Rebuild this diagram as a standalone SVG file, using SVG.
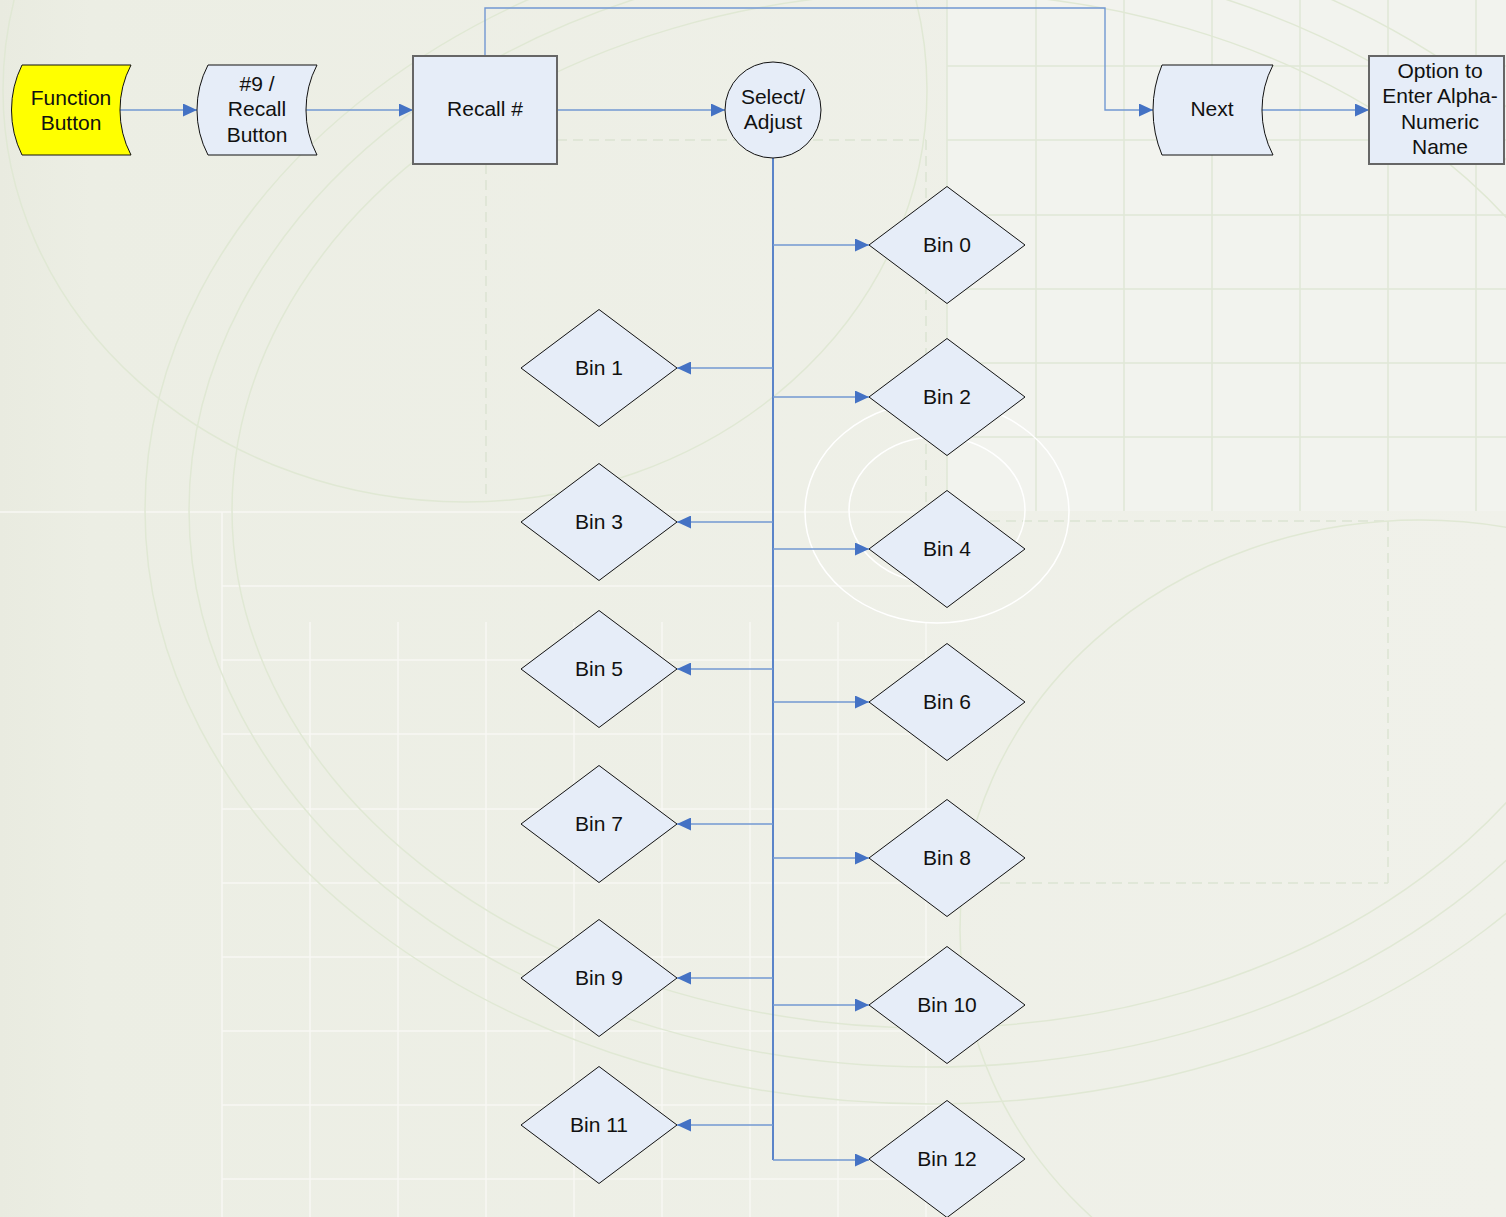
<svg xmlns="http://www.w3.org/2000/svg" width="1506" height="1217" viewBox="0 0 1506 1217">
<defs>
<linearGradient id="bgg" x1="0" y1="0" x2="1" y2="0">
<stop offset="0" stop-color="#E9EBE0"/>
<stop offset="0.06" stop-color="#ECEEE4"/>
<stop offset="1" stop-color="#F0F1EA"/>
</linearGradient>
<marker id="arr" viewBox="0 0 14 13" refX="14" refY="6.5" markerWidth="14" markerHeight="13" markerUnits="userSpaceOnUse" orient="auto">
<path d="M0,0 L14,6.5 L0,13 z" fill="#4472C4"/>
</marker>
<style>
.gl{stroke:#E0E7D6;stroke-width:1.5;fill:none}
.wl{stroke:#F8F8F3;stroke-width:1.5;fill:none}
.dl{stroke:#DCE4D2;stroke-width:1.5;fill:none;stroke-dasharray:10 6}
.arc{stroke:#E0E8D4;stroke-width:1.5;fill:none}
.warc{stroke:#FFFFFF;stroke-width:1.5;fill:none}
.shape{fill:#E6EDF8;stroke:#111;stroke-width:1}
.box{fill:#E6EDF8;stroke:#666;stroke-width:2}
.dia{fill:#E6EDF8;stroke:#111;stroke-width:1}
.t{font-family:"Liberation Sans",Arial,sans-serif;font-size:21px;fill:#111;text-anchor:middle}
.c{fill:none;stroke:#7298D2;stroke-width:1.4}
.trunk{fill:none;stroke:#4A78C6;stroke-width:1.8}
</style>
</defs>

<g id="background">
<rect x="0" y="0" width="1506" height="1217" fill="url(#bgg)"/>
<rect x="947" y="0" width="559" height="511" fill="#F2F3EE"/>
<path class="gl" d="M947,0V511 M1036,0V511 M1124,0V511 M1212,0V511 M1300,0V511 M1388,0V511 M1476,0V511"/>
<path class="gl" d="M947,66H1506 M947,140H1506 M947,215H1506 M947,289H1506 M947,363H1506 M947,437H1506"/>
<path class="wl" d="M0,512H947 M222,512V1217"/>
<path class="wl" d="M310,622V1217 M398,622V1217 M486,622V1217 M574,622V1217 M662,622V1217 M750,622V1217 M838,622V1217 M926,622V1217"/>
<path class="wl" d="M222,586H947 M222,660H947 M222,734H947 M222,809H947 M222,883H947 M222,957H947 M222,1031H947 M222,1105H947 M222,1179H947"/>
<path class="dl" d="M557,140H926 M486,164V500 M926,140V521 M926,521H1388 M1388,521V883 M1000,883H1388"/>
<ellipse class="arc" cx="465" cy="90" rx="462" ry="412"/>
<ellipse class="arc" cx="930" cy="510" rx="785" ry="594"/>
<ellipse class="arc" cx="930" cy="510" rx="741" ry="557"/>
<ellipse class="arc" cx="930" cy="510" rx="698" ry="518"/>
<ellipse class="arc" cx="1420" cy="930" rx="460" ry="410"/>
<ellipse class="warc" cx="937" cy="512" rx="132" ry="111"/>
<ellipse class="warc" cx="937" cy="510" rx="88" ry="73"/>
</g>

<g id="connectors">
<path class="c" d="M120,110H197" marker-end="url(#arr)"/>
<path class="c" d="M306,110H413" marker-end="url(#arr)"/>
<path class="c" d="M557,110H725" marker-end="url(#arr)"/>
<path class="c" d="M485,56V8H1105V110H1153" marker-end="url(#arr)"/>
<path class="c" d="M1262,110H1369" marker-end="url(#arr)"/>
<path class="trunk" d="M773,158V1160"/>
<path class="c" d="M773,245H869" marker-end="url(#arr)"/>
<path class="c" d="M773,368H677" marker-end="url(#arr)"/>
<path class="c" d="M773,397H869" marker-end="url(#arr)"/>
<path class="c" d="M773,522H677" marker-end="url(#arr)"/>
<path class="c" d="M773,549H869" marker-end="url(#arr)"/>
<path class="c" d="M773,669H677" marker-end="url(#arr)"/>
<path class="c" d="M773,702H869" marker-end="url(#arr)"/>
<path class="c" d="M773,824H677" marker-end="url(#arr)"/>
<path class="c" d="M773,858H869" marker-end="url(#arr)"/>
<path class="c" d="M773,978H677" marker-end="url(#arr)"/>
<path class="c" d="M773,1005H869" marker-end="url(#arr)"/>
<path class="c" d="M773,1125H677" marker-end="url(#arr)"/>
<path class="c" d="M773,1160H869" marker-end="url(#arr)"/>
</g>

<g id="function-button">
<path d="M22,65H131A97.5,97.5 0 0 0 131,155H22A101.7,101.7 0 0 1 22,65z" fill="#FFFF00" stroke="#111" stroke-width="1"/>
<text class="t" x="71" y="104.5">Function</text>
<text class="t" x="71" y="129.5">Button</text>
</g>

<g id="recall-button">
<path class="shape" d="M208,65H317A97.5,97.5 0 0 0 317,155H208A97.5,97.5 0 0 1 208,65z"/>
<text class="t" x="257" y="91">#9 /</text>
<text class="t" x="257" y="116">Recall</text>
<text class="t" x="257" y="142">Button</text>
</g>

<g id="recall-num">
<rect class="box" x="413" y="56" width="144" height="108"/>
<text class="t" x="485" y="116">Recall #</text>
</g>

<g id="select-adjust">
<circle class="shape" cx="773" cy="110" r="48"/>
<text class="t" x="773" y="104">Select/</text>
<text class="t" x="773" y="129">Adjust</text>
</g>

<g id="next">
<path class="shape" d="M1162,65H1273A97.5,97.5 0 0 0 1273,155H1162A117,117 0 0 1 1162,65z"/>
<text class="t" x="1212" y="116">Next</text>
</g>

<g id="option">
<rect class="box" x="1369" y="56" width="135" height="108"/>
<text class="t" x="1440" y="78">Option to</text>
<text class="t" x="1440" y="103">Enter Alpha-</text>
<text class="t" x="1440" y="129">Numeric</text>
<text class="t" x="1440" y="154">Name</text>
</g>

<g id="bin0"><path class="dia" d="M947,186.5L1025,245L947,303.5L869,245z"/><text class="t" x="947" y="251.5">Bin 0</text></g>
<g id="bin1"><path class="dia" d="M599,309.5L677,368L599,426.5L521,368z"/><text class="t" x="599" y="374.5">Bin 1</text></g>
<g id="bin2"><path class="dia" d="M947,338.5L1025,397L947,455.5L869,397z"/><text class="t" x="947" y="403.5">Bin 2</text></g>
<g id="bin3"><path class="dia" d="M599,463.5L677,522L599,580.5L521,522z"/><text class="t" x="599" y="528.5">Bin 3</text></g>
<g id="bin4"><path class="dia" d="M947,490.5L1025,549L947,607.5L869,549z"/><text class="t" x="947" y="555.5">Bin 4</text></g>
<g id="bin5"><path class="dia" d="M599,610.5L677,669L599,727.5L521,669z"/><text class="t" x="599" y="675.5">Bin 5</text></g>
<g id="bin6"><path class="dia" d="M947,643.5L1025,702L947,760.5L869,702z"/><text class="t" x="947" y="708.5">Bin 6</text></g>
<g id="bin7"><path class="dia" d="M599,765.5L677,824L599,882.5L521,824z"/><text class="t" x="599" y="830.5">Bin 7</text></g>
<g id="bin8"><path class="dia" d="M947,799.5L1025,858L947,916.5L869,858z"/><text class="t" x="947" y="864.5">Bin 8</text></g>
<g id="bin9"><path class="dia" d="M599,919.5L677,978L599,1036.5L521,978z"/><text class="t" x="599" y="984.5">Bin 9</text></g>
<g id="bin10"><path class="dia" d="M947,946.5L1025,1005L947,1063.5L869,1005z"/><text class="t" x="947" y="1011.5">Bin 10</text></g>
<g id="bin11"><path class="dia" d="M599,1066.5L677,1125L599,1183.5L521,1125z"/><text class="t" x="599" y="1131.5">Bin 11</text></g>
<g id="bin12"><path class="dia" d="M947,1100.5L1025,1159L947,1217.5L869,1159z"/><text class="t" x="947" y="1165.5">Bin 12</text></g>
</svg>
